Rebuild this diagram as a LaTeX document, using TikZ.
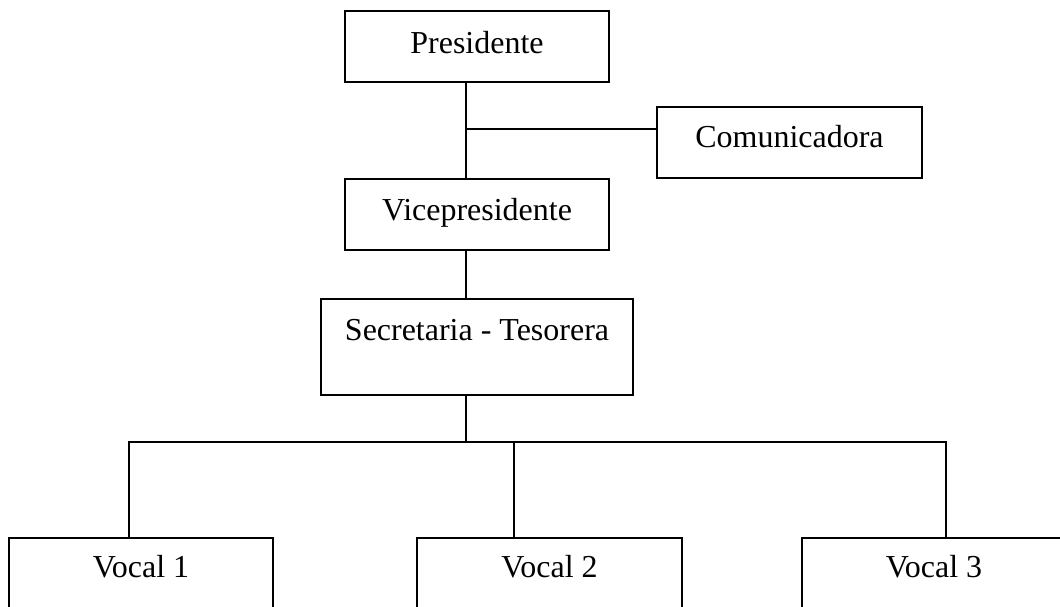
\documentclass[tikz,border=0pt]{standalone}
\usepackage{fontspec}
\setmainfont{Liberation Serif}
\usepackage{tikz}
\tikzstyle{orgChart} = [x = 0.02cm, y = -0.02cm]
\tikzstyle{orgLine} = [color=black, line width=1.1pt]
\tikzstyle{orgBox} = [draw, orgLine, anchor=north, inner sep=0pt, font=\fontsize{18.2}{20}\selectfont]
\newcommand{\orgNode}[7]{\node [orgBox, minimum width=#4cm, text height=#5cm, text depth=#6cm] (#1) at (#2,#3) {#7};}

\begin{document}
\begin{tikzpicture}[orgChart]
        \useasboundingbox (0,0) rectangle (1060,606);
        \orgNode{pres}{477}{10}{5.28}{0.86}{0.56}{Presidente}
        \orgNode{com}{789.5}{106}{5.3}{0.82}{0.60}{Comunicadora}
        \orgNode{vice}{477}{178}{5.28}{0.84}{0.58}{Vicepresidente}
        \orgNode{sec}{477}{298}{6.24}{0.84}{1.08}{Secretaria - Tesorera}
        \orgNode{vocA}{141}{537}{5.28}{0.80}{0.80}{Vocal 1}
        \orgNode{vocB}{549.5}{537}{5.3}{0.80}{0.80}{Vocal 2}
        \orgNode{vocC}{934}{537}{5.28}{0.80}{0.80}{Vocal 3}

        % upper trunk and branch
        \coordinate (trunk) at (466,129);
        \draw [orgLine] (pres.south -| trunk) -- (vice.north -| trunk);
        \draw [orgLine] (trunk) -- (trunk -| com.west);
        \draw [orgLine] (vice.south -| trunk) -- (sec.north -| trunk);

        % lower bus
        \coordinate (busLeft) at (129,442);
        \coordinate (busMid) at (514,442);
        \coordinate (busRight) at (946,442);
        \draw [orgLine] (sec.south -| trunk) -- (trunk |- busMid);
        \draw [orgLine] (vocA.north -| busLeft) -- (busLeft) -- (busRight) -- (vocC.north -| busRight);
        \draw [orgLine] (busMid) -- (vocB.north -| busMid);
      \end{tikzpicture}
\end{document}
